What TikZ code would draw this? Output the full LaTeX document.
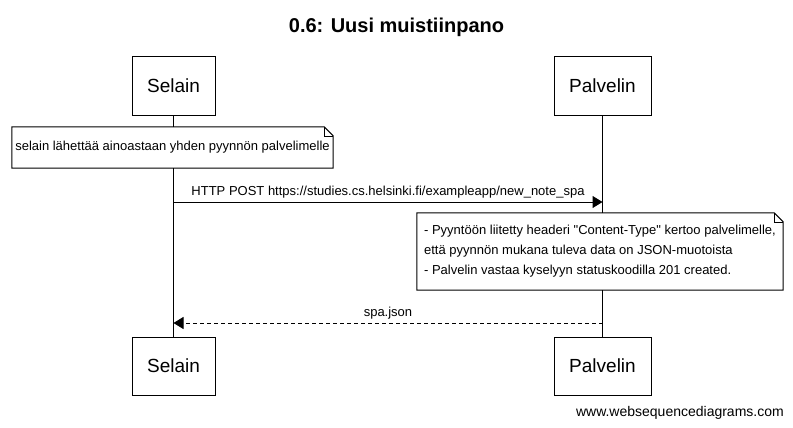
\documentclass[tikz,border=0pt]{standalone}
\usepackage{fontspec}
\setmainfont{Liberation Sans}[Ligatures=TeXOff]
\usepackage{tikz}
\usetikzlibrary{arrows.meta}
\usetikzlibrary{positioning}
\tikzstyle{actor}=[draw=black, fill=white, line width=1pt, minimum height=58pt, inner sep=0pt, font=\fontsize{19}{22}\selectfont]
\tikzstyle{notebox}=[fill=white, inner sep=0pt, align=left, font=\fontsize{13}{20}\selectfont]
\tikzstyle{msg}=[line width=1pt, -{Triangle[length=10pt,width=12pt]}]
\tikzstyle{msglabel}=[midway, above, inner sep=3pt, font=\fontsize{13}{15}\selectfont]
\newcommand{\foldnote}[1]{
  \draw[line width=1pt] (#1.north west) -- ([xshift=-9pt]#1.north east) -- ([yshift=-9pt]#1.north east) -- (#1.south east) -- (#1.south west) -- cycle;
  \draw[line width=0.6pt] ([xshift=-9pt]#1.north east) -- ([xshift=-9pt,yshift=-9pt]#1.north east) -- ([yshift=-9pt]#1.north east);
}

\begin{document}
\begin{tikzpicture}[x=1pt, y=-1pt]
          \useasboundingbox (0,0) rectangle (793,428);
          \node[font=\bfseries\fontsize{20}{24}\selectfont] (title) at (396.5,27){0.6: Uusi muistiinpano};
          % participants
          \node[actor, minimum width=83pt] (sel0) at (173.5,86){Selain};
          \node[actor, minimum width=97pt] (pal0) at (602.5,86){Palvelin};
          \node[actor, minimum width=83pt] (sel1) at (173.5,366){Selain};
          \node[actor, minimum width=97pt] (pal1) at (602.5,366){Palvelin};
          \draw[line width=1pt](sel0) -- (sel1);
          \draw[line width=1pt](pal0) -- (pal1);
          % notes
          \node[notebox, minimum width=321pt, minimum height=41pt] (note0) at (172.5,147.5){selain lähettää ainoastaan yhden pyynnön palvelimelle};
          \foldnote{note0}
          \coordinate (m0s) at (sel0 |- 0,202);
          \coordinate (m0e) at (pal0 |- 0,202);
          \draw[msg](m0s) -- node[msglabel]{HTTP POST https://studies.cs.helsinki.fi/exampleapp/new\_note\_spa} (m0e);
          \node[notebox, minimum width=366pt, minimum height=77pt] (note1) at (600,251.5){- Pyyntöön liitetty headeri "Content-Type" kertoo palvelimelle,\\että pyynnön mukana tuleva data on JSON-muotoista\\- Palvelin vastaa kyselyyn statuskoodilla 201 created.};
          \foldnote{note1}
          \coordinate (m1s) at (pal0 |- 0,323);
          \coordinate (m1e) at (sel0 |- 0,323);
          \draw[msg, dash pattern=on 4pt off 3pt](m1s) -- node[msglabel]{spa.json} (m1e);
          \node[anchor=east, inner sep=0pt, font=\fontsize{14}{16}\selectfont] (wsd) at (784,413){www.websequencediagrams.com};
        \end{tikzpicture}
\end{document}
